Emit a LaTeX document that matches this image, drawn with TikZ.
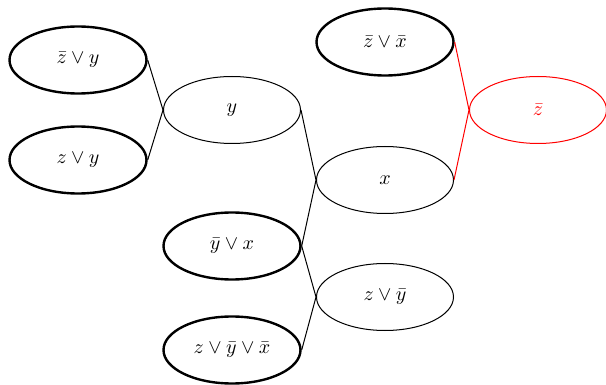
\documentclass[tikz,border=0pt]{standalone}
\usetikzlibrary{shapes.geometric}
\begin{document}
\begin{tikzpicture}[x=0.5pt,y=-0.5pt,
  clause/.style={ellipse,draw,minimum width=68.5pt,minimum height=33.5pt,inner sep=0pt},
  given/.style={clause,line width=1.2pt},
  derived/.style={clause,line width=0.5pt},
  goal/.style={clause,line width=0.5pt,draw=red,text=red},
  link/.style={line width=0.5pt},
  goallink/.style={line width=0.5pt,draw=red}]
  \useasboundingbox (0,0) rectangle (606,385);
  % premises and resolvents
  \node[given]   (a) at (78,60)   {$\bar z \vee y$};
  \node[given]   (b) at (78,160)  {$z \vee y$};
  \node[derived] (c) at (232,110) {$y$};
  \node[given]   (d) at (232,246) {$\bar y \vee x$};
  \node[given]   (e) at (232,350) {$z \vee \bar y \vee \bar x$};
  \node[given]   (f) at (385,42)  {$\bar z \vee \bar x$};
  \node[derived] (g) at (385,180) {$x$};
  \node[derived] (h) at (385,297) {$z \vee \bar y$};
  \node[goal]    (i) at (538,110) {$\bar z$};
  % resolution steps
  \draw[link] (a.east) -- (c.west);
  \draw[link] (b.east) -- (c.west);
  \draw[link] (c.east) -- (g.west);
  \draw[link] (d.east) -- (g.west);
  \draw[link] (d.east) -- (h.west);
  \draw[link] (e.east) -- (h.west);
  \draw[goallink] (f.east) -- (i.west);
  \draw[goallink] (g.east) -- (i.west);
\end{tikzpicture}
\end{document}
